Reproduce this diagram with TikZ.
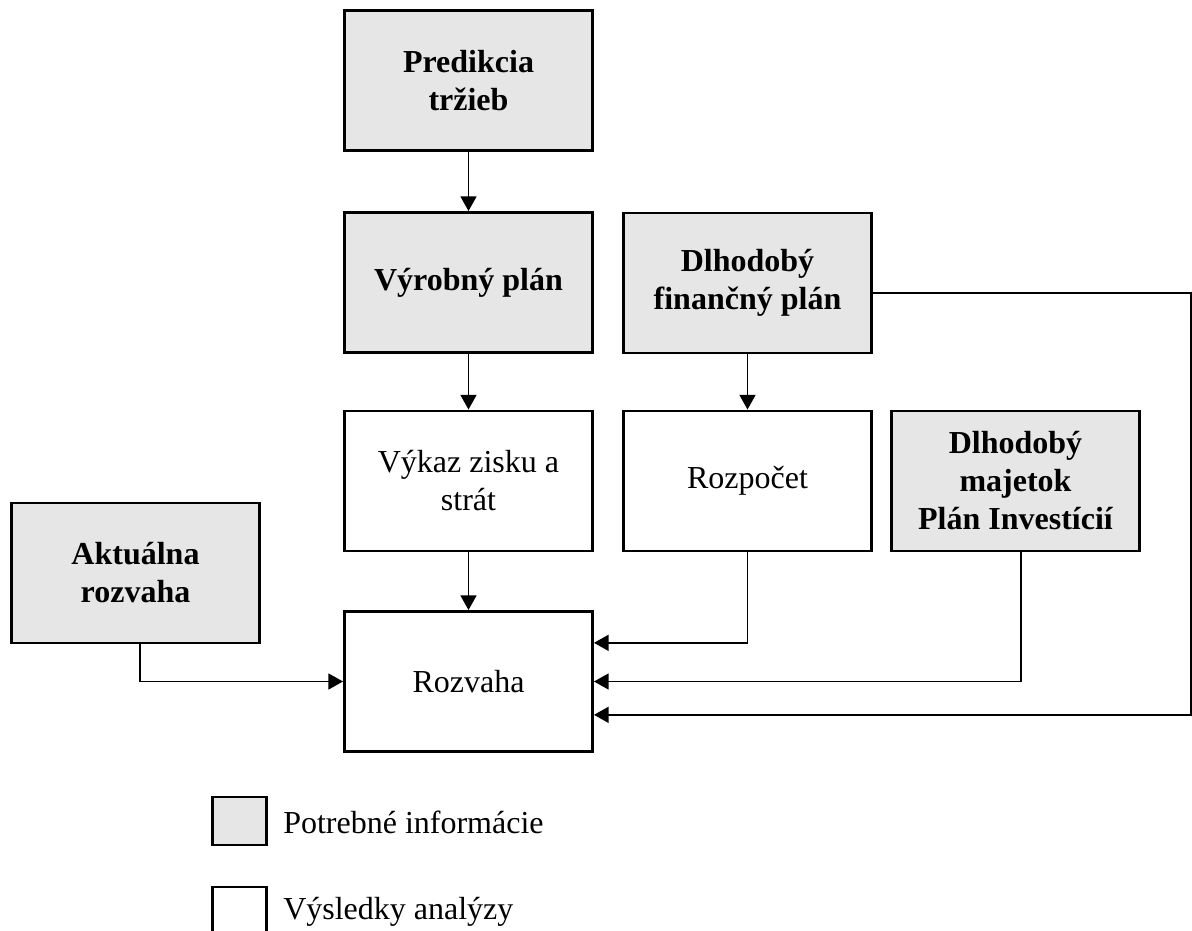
\documentclass[tikz,border=0pt]{standalone}
\usepackage{fontspec}
\setmainfont{Liberation Serif}
\usetikzlibrary{arrows.meta}
\definecolor{infogray}{HTML}{E6E6E6}
\tikzset{
	infobox/.style={draw, line width=2.2pt, fill=infogray, minimum width=186pt, minimum height=105pt, align=center, font=\fontsize{24}{28.5}\selectfont\bfseries},
	resultbox/.style={infobox, fill=white, font=\fontsize{24}{28.5}\selectfont},
	legendbox/.style={draw, line width=2.2pt, minimum width=41pt, minimum height=36pt, inner sep=0pt},
	legendtext/.style={anchor=west, inner sep=0pt, font=\fontsize{24}{28.5}\selectfont},
	flow/.style={-{Triangle[length=11pt,width=12pt]}, line width=1.1pt},
}
\begin{document}
\begin{tikzpicture}[x=0.75pt, y=-0.75pt]
		\useasboundingbox (0,0) rectangle (1192,931);
		\clip (0,0) rectangle (1192,931);
		
		\node[infobox] (pred) at (468.5,80.5) {Predikcia\\tržieb};
		\node[infobox] (vyr) at (468.5,282.5) {Výrobný plán};
		\node[infobox] (dfp) at (747.5,283) {Dlhodobý\\finančný plán};
		\node[resultbox] (vykaz) at (468.5,481) {Výkaz zisku a\\strát};
		\node[resultbox] (rozp) at (747.5,481) {Rozpočet};
		\node[infobox] (maj) at (1015.5,481) {Dlhodobý\\majetok\\Plán Investícií};
		\node[infobox] (akt) at (135.5,573) {Aktuálna\\rozvaha};
		\node[resultbox] (rozv) at (468.5,681.5) {Rozvaha};
		
		\foreach \from/\to in {pred/vyr, vyr/vykaz, dfp/rozp, vykaz/rozv}{
			\draw[flow] (\from) -- (\to);
		}
		\draw[flow] (rozp.south) |- ([yshift=29pt]rozv.east);
		\draw[flow] ([xshift=4pt]maj.south) |- (rozv.east);
		\draw[flow] ([yshift=-7.5pt]dfp.east) -- ++(318,0) |- ([yshift=-25pt]rozv.east);
		\draw[flow] ([xshift=3.4pt]akt.south) |- (rozv.west);
		
		\node[legendbox, fill=infogray] (leginfo) at (239.5,821) {};
		\node[legendbox, fill=white] (legres) at (239.5,911) {};
		\node[legendtext] (leginfotext) at (283,822) {Potrebné informácie};
		\node[legendtext] (legrestext) at (283,912) {Výsledky analýzy};
\end{tikzpicture}
\end{document}
